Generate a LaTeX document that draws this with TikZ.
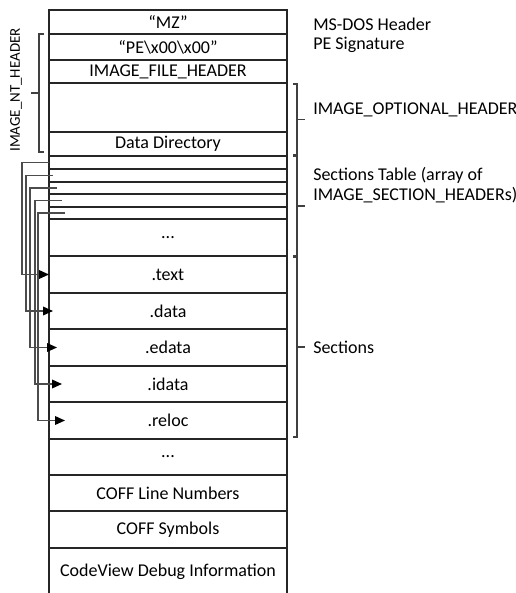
\documentclass[tikz,border=0pt]{standalone}
\usepackage{fontspec}
\setmainfont{Carlito}
\usetikzlibrary{arrows.meta}
\begin{document}
\begin{tikzpicture}[x=0.75pt,y=-0.75pt,
  rowbox/.style={draw=black!85,line width=0.8pt,minimum width=178.5pt,inner sep=0pt,outer sep=0pt,
    font=\fontsize{13.5}{16}\selectfont,text=black},
  conn/.style={draw=black!70,line width=1.1pt,-{Triangle[length=7.5pt,width=6.5pt,color=black,fill=black]}},
  brk/.style={draw=black!75,line width=0.8pt},
  lbl/.style={anchor=west,inner sep=0pt,font=\fontsize{13.5}{15}\selectfont,text=black,align=left}]
\clip (0,0) rectangle (516,593);
\foreach \n/\t/\b/\txt in {
  mz/10/34/{“MZ”},
  pe/34/60/{“PE\textbackslash x00\textbackslash x00”},
  ifh/60/83/{IMAGE\_FILE\_HEADER},
  opt/83/132/{},
  dd/132/156/{Data Directory},
  sha/156/169/{},
  shb/169/182/{},
  shc/182/194/{},
  shd/194/207/{},
  she/207/219/{},
  dotsa/219/256/{...},
  text/256/293/{.text},
  data/293/329/{.data},
  edata/329/366/{.edata},
  idata/366/402/{.idata},
  reloc/402/439/{.reloc},
  dotsb/439/475/{...},
  coffln/475/511/{COFF Line Numbers},
  coffsym/511/548/{COFF Symbols},
  cv/548/596/{CodeView Debug Information}}
  \node[rowbox,anchor=north,minimum height={(\b-\t)*0.75pt}] (\n) at (168,\t) {\txt};

% connectors from section headers to sections
\draw[conn] (sha.west) -- ++(-27,0) |- (text.west);
\draw[conn] ([xshift=3pt]shb.west) -- ++(-27,0) |- ([xshift=3pt]data.west);
\draw[conn] ([xshift=6pt]shc.west) -- ++(-27,0) |- ([xshift=6pt]edata.west);
\draw[conn] ([xshift=9.75pt]shd.west) -- ++(-27,0) |- ([xshift=9.75pt]idata.west);
\draw[conn] ([xshift=12pt]she.west) -- ++(-27,0) |- ([xshift=12pt]reloc.west);

% left bracket
\draw[brk] (44,34) -- (39,34) -- (39,152) -- (44,152);
\draw[brk] (39,93) -- (31,93);
\node[rotate=90,inner sep=0pt,font=\fontsize{11.2}{13}\selectfont,text=black] (nt) at (16,90) {IMAGE\_NT\_HEADER};

% right brackets
\draw[brk] (293,84) -- (297,84) -- (297,155) -- (293,155);
\draw[brk] (297,119.5) -- (305,119.5);
\draw[brk] (293,156) -- (297,156) -- (297,256) -- (293,256);
\draw[brk] (297,206) -- (305,206);
\draw[brk] (293,257) -- (297,257) -- (297,437) -- (293,437);
\draw[brk] (297,347) -- (305,347);

% labels
\node[lbl] (msdos) at (313,24) {MS-DOS Header};
\node[lbl] (pesig) at (313,45) {PE Signature};
\node[lbl] (opth) at (313,110) {IMAGE\_OPTIONAL\_HEADER};
\node[lbl] (sectab) at (313,185) {Sections Table (array of\\IMAGE\_SECTION\_HEADERs)};
\node[lbl] (sects) at (313,347) {Sections};
\end{tikzpicture}
\end{document}
